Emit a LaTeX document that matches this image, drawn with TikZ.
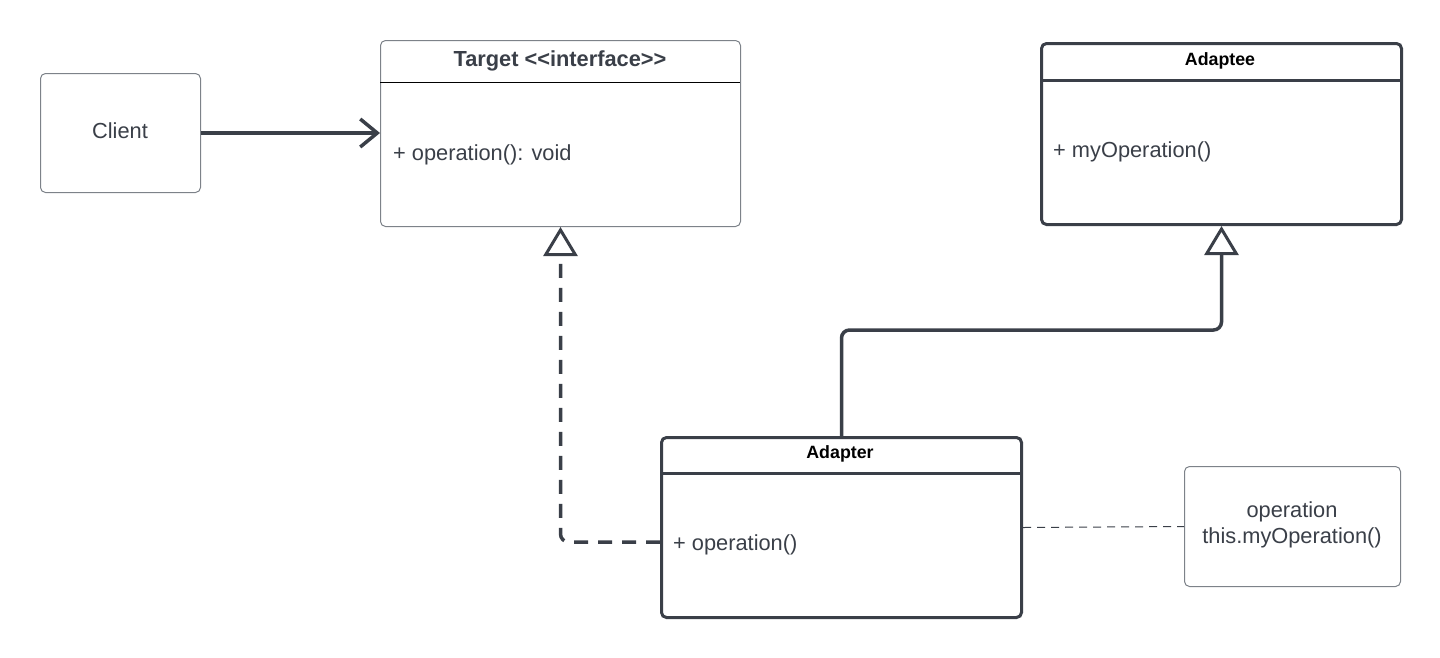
\documentclass[tikz,border=0pt]{standalone}
\usepackage{fontspec}
\setmainfont{Liberation Sans}
\usetikzlibrary{arrows.meta}
\definecolor{ink}{HTML}{3A3F48}
\definecolor{thin}{HTML}{7D8289}
\tikzset{
  thinbox/.style={draw=thin, line width=1pt, rounded corners=5pt, fill=white, anchor=north west, inner sep=0pt},
  thickbox/.style={draw=ink, line width=3pt, rounded corners=5pt, fill=white, anchor=north west, inner sep=0pt},
  txt/.style={text=ink, font=\fontsize{21.8}{26}\selectfont, inner sep=0pt},
  ttl/.style={font=\bfseries\fontsize{17.8}{21}\selectfont, text=black, inner sep=0pt},
  conn/.style={draw=ink, line width=3.5pt},
  realize/.style={conn, dash pattern=on 14pt off 10pt, rounded corners=8pt, -{Triangle[open, length=29pt, width=34pt, line width=3pt, fill=white]}},
  inherit/.style={conn, rounded corners=8pt, -{Triangle[open, length=29pt, width=34pt, line width=3pt, fill=white]}},
  assoc/.style={conn, -{Straight Barb[length=17pt, width=28pt, line width=3.5pt]}},
  notelink/.style={draw=ink, line width=1pt, dash pattern=on 8pt off 6pt}
}
\begin{document}
\begin{tikzpicture}[x=1pt, y=-1pt]
\useasboundingbox (0,0) rectangle (1440,657);
% Client
\node[thinbox, minimum width=160pt, minimum height=119pt] (client) at (40,73) {};
\node[txt] (clienttxt) at (120,131) {Client};
% Target
\node[thinbox, minimum width=360pt, minimum height=186pt] (target) at (380,40) {};
\draw[thin, line width=1pt] (380,82) -- (740,82);
\node[txt, font=\bfseries\fontsize{21.8}{26}\selectfont] (targettitle) at (560,61) {Target <{}<interface>{}>};
\node[txt, anchor=west] (targetop) at (393,155) {+ operation(): void};
% Adaptee
\node[thickbox, minimum width=360pt, minimum height=181pt] (adaptee) at (1040,42) {};
\draw[ink, line width=3pt] (1040,80) -- (1400,80);
\node[ttl] (adapteetitle) at (1220,61) {Adaptee};
\node[txt, anchor=west] (adapteeop) at (1053,152) {+ myOperation()};
% Adapter
\node[thickbox, minimum width=360pt, minimum height=180pt] (adapter) at (660,436) {};
\draw[ink, line width=3pt] (660,473) -- (1020,473);
\node[ttl] (adaptertitle) at (840,454) {Adapter};
\node[txt, anchor=west] (adapterop) at (673,545) {+ operation()};
% Note
\node[thinbox, minimum width=216pt, minimum height=120pt] (note) at (1184,466) {};
\node[txt, align=center, font=\fontsize{21.8}{26}\selectfont] (notetxt) at (1292,525) {operation\\this.myOperation()};
% Connectors
\draw[assoc] (client.east) -- (target.west |- client.east);
\draw[realize] (adapter.west |- 0,542) -| (target.south);
\draw[inherit] (adapter.north) -- ++(0,-106) -| (adaptee.south);
\draw[notelink] (adapter.east) -- (note.west);
\end{tikzpicture}
\end{document}
